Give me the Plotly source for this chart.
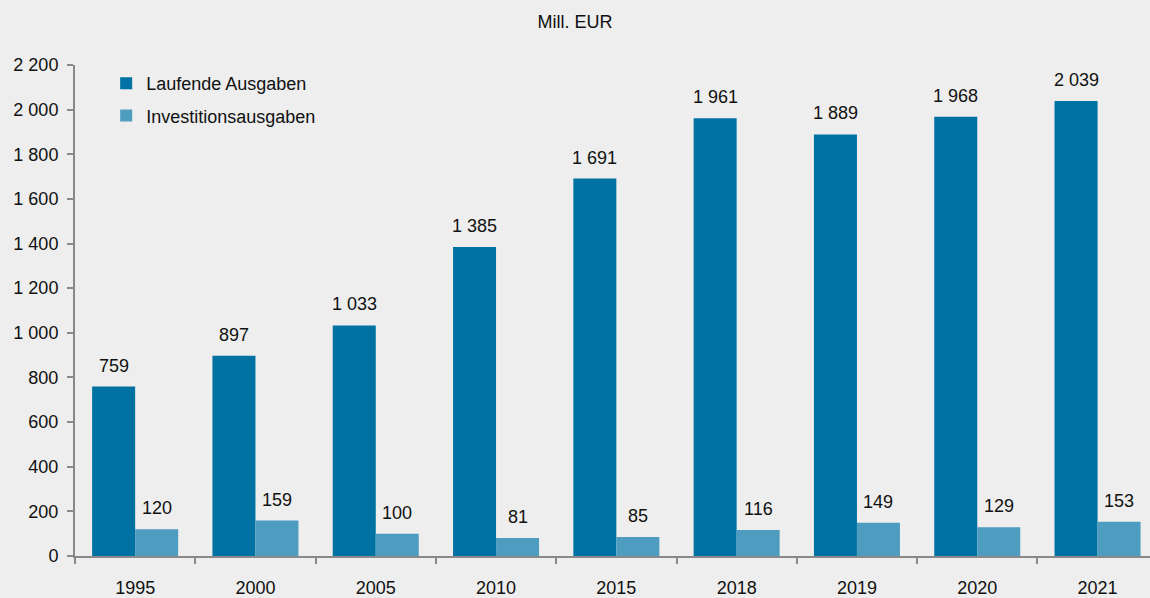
import plotly.graph_objects as go

years = ["1995", "2000", "2005", "2010", "2015", "2018", "2019", "2020", "2021"]
laufende = [759, 897, 1033, 1385, 1691, 1961, 1889, 1968, 2039]
invest = [120, 159, 100, 81, 85, 116, 149, 129, 153]
ytick_vals = [0, 200, 400, 600, 800, 1000, 1200, 1400, 1600, 1800, 2000, 2200]

DARK = "#0071A3"
LIGHT = "#4E9DC1"
BG = "#EDEEED"
AXIS = "#898989"
FONT = "Liberation Sans, Arial, sans-serif"
FS = 18


def fmt(v):
    return f"{v:,}".replace(",", " ")


fig = go.Figure()
fig.add_trace(go.Bar(x=years, y=laufende, name="Laufende Ausgaben", marker_color=DARK,
                     marker_line_width=0, legendgroup="a"))
fig.add_trace(go.Bar(x=years, y=invest, name="Investitionsausgaben", marker_color=LIGHT,
                     marker_line_width=0, legendgroup="b"))

annotations = []
for i, (a, b) in enumerate(zip(laufende, invest)):
    annotations.append(dict(x=i, y=a, xref="x", yref="y", text=fmt(a), showarrow=False,
                            xshift=-21.5, yshift=21, yanchor="middle",
                            font=dict(size=FS, color="#111111", family=FONT)))
    annotations.append(dict(x=i, y=b, xref="x", yref="y", text=fmt(b), showarrow=False,
                            xshift=21.5, yshift=21, yanchor="middle",
                            font=dict(size=FS, color="#111111", family=FONT)))

fig.update_layout(
    width=1150, height=598,
    paper_bgcolor=BG, plot_bgcolor=BG,
    margin=dict(l=75, r=0, t=65, b=42),
    barmode="group", bargap=0.285, bargroupgap=0,
    font=dict(family=FONT, size=FS, color="#111111"),
    title=dict(text="Mill. EUR", x=0.5, xanchor="center", y=0.963, yanchor="middle",
               font=dict(size=FS, family=FONT, color="#111111")),
    legend=dict(x=0.029, y=1.0, xanchor="left", yanchor="top", bgcolor="rgba(0,0,0,0)",
                font=dict(size=FS, family=FONT), tracegroupgap=6, traceorder="grouped"),
    annotations=annotations,
)
fig.update_xaxes(type="category", range=[-0.5, 8.436], tickson="boundaries", ticks="outside",
                 ticklen=6, tickwidth=2, tickcolor=AXIS, showline=True, linecolor=AXIS, linewidth=2,
                 showgrid=False, zeroline=False, ticklabelstandoff=14,
                 tickfont=dict(size=FS, family=FONT))
fig.update_yaxes(range=[0, 2200], tickvals=ytick_vals, ticktext=[fmt(v) for v in ytick_vals],
                 ticks="outside", ticklen=6, tickwidth=2, tickcolor=AXIS, showline=True,
                 linecolor=AXIS, linewidth=2, showgrid=False, zeroline=False,
                 ticklabelstandoff=5, tickfont=dict(size=FS, family=FONT))

fig.write_html("out.html", config={"displayModeBar": False},
               post_script="document.body.style.margin='0';")
